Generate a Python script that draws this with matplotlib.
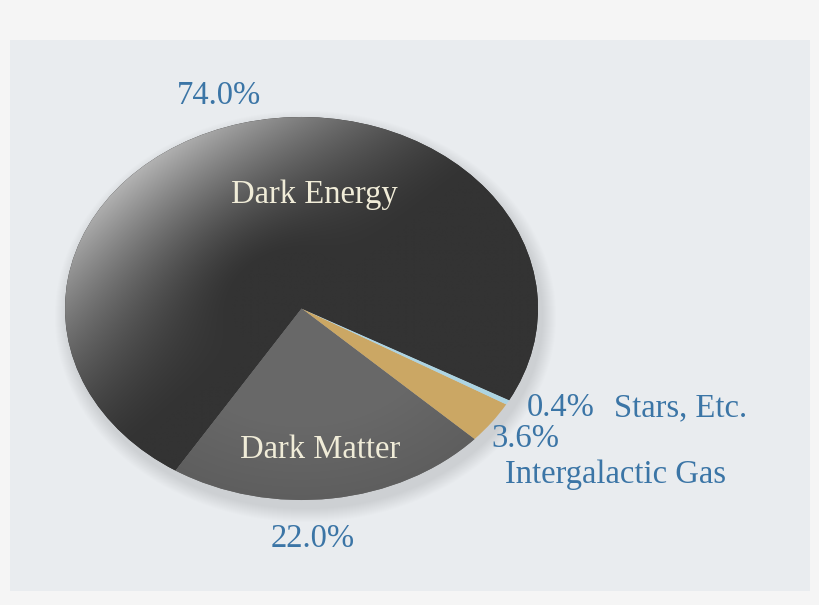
import numpy as np
import matplotlib
matplotlib.use("Agg")
import matplotlib.pyplot as plt
from matplotlib.patches import Ellipse, Rectangle

# data
categories = ["Dark Energy", "Dark Matter", "Intergalactic Gas", "Stars, Etc."]
shares = [74.0, 22.0, 3.6, 0.4]
pct_labels = ["74.0%", "22.0%", "3.6%", "0.4%"]

colors = ["#333333", "#666666", "#cba764", "#add4e2"]
blue = "#3b75a6"
cream = "#f0ecd8"
serif = ["Liberation Serif", "DejaVu Serif"]

W, H = 820, 605
fig = plt.figure(figsize=(W / 100, H / 100), dpi=100)
fig.patch.set_facecolor("#f5f5f5")

# background axes in pixel coords
bg = fig.add_axes([0, 0, 1, 1])
bg.set_xlim(0, W)
bg.set_ylim(H, 0)
bg.axis("off")
bg.add_patch(Rectangle((10, 40), 800, 551, facecolor="#e9ecef", edgecolor="none"))

# soft shadow around the pie, mostly below and to the right
cx, cy, ew, eh = 301.5, 308.5, 473, 383
for k in range(14, 0, -1):
    bg.add_patch(Ellipse((cx + 4, cy + 8), ew + 2.0 * k, eh + 2.0 * k,
                         facecolor="#6d7378", edgecolor="none", alpha=0.015))

# pie axes stretched over the ellipse bbox
pax = fig.add_axes([65 / W, 1 - 500 / H, ew / W, eh / H])
wedges, _ = pax.pie(shares, colors=colors, startangle=-28.6, radius=1.0,
                    wedgeprops=dict(linewidth=0))
pax.set_aspect("auto")
pax.axis("off")

# shading on the dark energy slice: light from upper left
n = 400
xs = np.linspace(-1, 1, n)
X, Y = np.meshgrid(xs, xs[::-1])
R = np.hypot(X, Y)
phi = np.arctan2(Y, X)
light = np.clip(np.cos(phi - np.deg2rad(135)), 0, 1) ** 1.5
light *= np.clip((R - 0.3) / 0.7, 0, 1) ** 1.4
val = 0.2 + 0.5 * light
img = np.dstack([val, val, val])
im = pax.imshow(img, extent=(-1, 1, -1, 1), zorder=wedges[0].get_zorder() + 0.1,
                interpolation="bilinear", aspect="auto")
im.set_clip_path(wedges[0])

# slight shading on dark matter
val2 = 0.41 - 0.04 * np.clip((R - 0.6) / 0.4, 0, 1)
img2 = np.dstack([val2, val2, val2])
im2 = pax.imshow(img2, extent=(-1, 1, -1, 1), zorder=wedges[1].get_zorder() + 0.1,
                 interpolation="bilinear", aspect="auto")
im2.set_clip_path(wedges[1])
pax.set_xlim(-1, 1)
pax.set_ylim(-1, 1)

# labels on a transparent top layer
top = fig.add_axes([0, 0, 1, 1])
top.set_xlim(0, W)
top.set_ylim(H, 0)
top.axis("off")
top.patch.set_alpha(0)

fs = 23.5
top.text(314, 195, categories[0], color=cream, fontsize=fs, family=serif,
         ha="center", va="center")
top.text(320, 450, categories[1], color=cream, fontsize=fs, family=serif,
         ha="center", va="center")
top.text(219, 96, pct_labels[0], color=blue, fontsize=fs, family=serif,
         ha="center", va="center")
top.text(313, 539, pct_labels[1], color=blue, fontsize=fs, family=serif,
         ha="center", va="center")
top.text(491, 439, pct_labels[2], color=blue, fontsize=fs, family=serif,
         ha="left", va="center")
top.text(527, 408, pct_labels[3], color=blue, fontsize=fs, family=serif,
         ha="left", va="center")
top.text(614, 408, categories[3], color=blue, fontsize=fs, family=serif,
         ha="left", va="center")
top.text(505, 475, categories[2], color=blue, fontsize=fs, family=serif,
         ha="left", va="center")

fig.savefig("out.png", dpi=100)
